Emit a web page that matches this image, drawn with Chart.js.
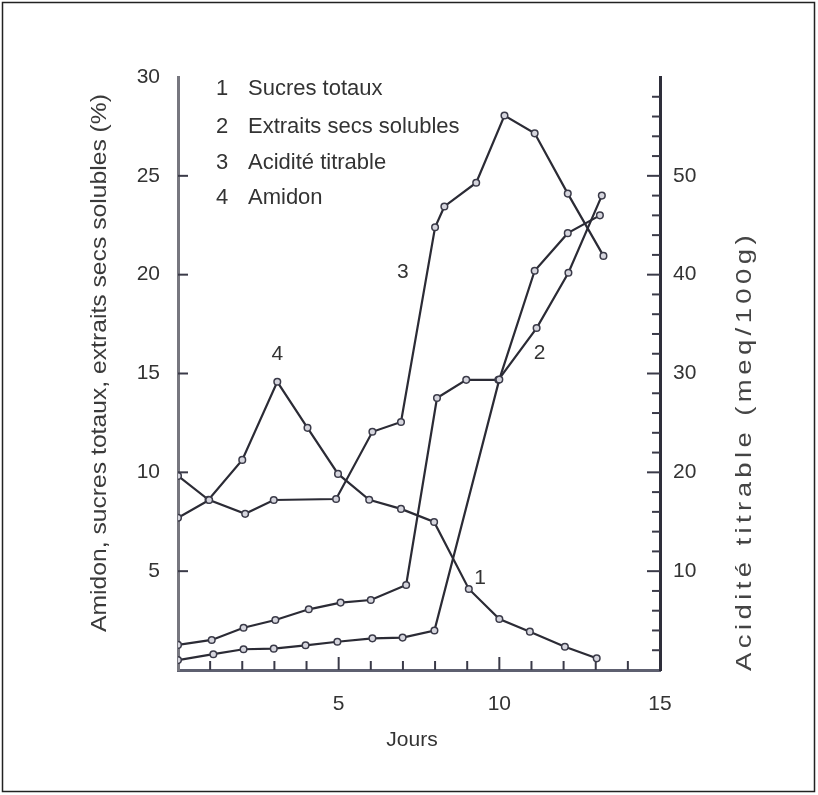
<!DOCTYPE html>
<html>
<head>
<meta charset="utf-8">
<script src="https://cdn.jsdelivr.net/npm/chart.js@4.4.1/dist/chart.umd.min.js"></script>
<style>
  html, body { margin: 0; padding: 0; background: #fff; }
  #wrap { width: 818px; height: 795px; position: relative; }
</style>
</head>
<body>
<div id="wrap"><canvas id="c" width="818" height="795"></canvas></div>
<script>
// ---- Data ----
const seriesNames = ["Sucres totaux", "Extraits secs solubles", "Acidité titrable", "Amidon"];

// 1 Sucres totaux (%) - left axis
const daysSucres = [0, 1.1, 2.04, 2.98, 3.97, 4.96, 6.05, 6.99, 7.98, 10.0, 11.1, 12.13, 13.13];
const sucres     = [0.5, 0.8, 1.05, 1.08, 1.25, 1.43, 1.6, 1.64, 2.0, 14.7, 20.2, 22.1, 23.0];

// 2 Extraits secs solubles (%) - left axis
const daysExtraits = [0, 1.05, 2.04, 3.03, 4.07, 5.06, 6.0, 7.1, 8.06, 8.97, 9.97, 11.16, 12.15, 13.19];
const extraits     = [1.27, 1.52, 2.14, 2.53, 3.07, 3.41, 3.54, 4.3, 13.76, 14.68, 14.68, 17.3, 20.1, 24.0];

// 3 Acidité titrable (meq/100g) - right axis
const daysAcidite = [0, 0.97, 2.09, 2.98, 4.92, 6.05, 6.94, 8.0, 8.29, 9.28, 10.16, 11.1, 12.13, 13.24];
const acidite     = [15.4, 17.2, 15.8, 17.2, 17.3, 24.1, 25.1, 44.8, 46.9, 49.3, 56.1, 54.3, 48.2, 41.9];

// 4 Amidon (%) - left axis
const daysAmidon = [0, 0.95, 2.0, 3.09, 4.03, 4.98, 5.95, 6.94, 7.97, 9.05, 10.0, 10.95, 12.04, 13.03];
const amidon     = [9.82, 8.61, 10.63, 14.58, 12.25, 9.92, 8.61, 8.15, 7.49, 4.1, 2.58, 1.94, 1.18, 0.59];

// Tick label sets
const xTickLabels = [5, 10, 15];
const leftTickLabels = [5, 10, 15, 20, 25, 30];
const rightTickLabels = [10, 20, 30, 40, 50];

const xTitle = "Jours";
const leftTitle = "Amidon, sucres totaux, extraits secs solubles (%)";
const rightTitle = "Acidité titrable (meq/100g)";

// curve number labels: [text, day, left-axis value]
const curveLabels = [["1", 9.4, 4.65], ["2", 11.25, 16.05], ["3", 7.0, 20.1], ["4", 3.09, 16.0]];

// ---- Build ----
const toXY = (xs, ys) => xs.map((x, i) => ({ x: x, y: ys[i] }));
const LINE = '#2b2b35';
const FONT = '"Liberation Sans", Arial, sans-serif';
const TXT = '#333';

function ds(label, xs, ys, axis) {
  return {
    label: label,
    data: toXY(xs, ys),
    yAxisID: axis,
    borderColor: LINE,
    borderWidth: 2.2,
    pointRadius: 3.3,
    pointBorderWidth: 1.5,
    pointBorderColor: '#3a3a48',
    pointBackgroundColor: '#d6d6de',
    tension: 0,
    fill: false
  };
}

// draws rotated text spread along its own direction to a target length
function spreadText(ctx, text, cx, cy, size, targetLen, stretch, rot, color) {
  ctx.save();
  ctx.font = size + 'px ' + FONT;
  ctx.fillStyle = color;
  ctx.textAlign = 'center';
  ctx.textBaseline = 'middle';
  const w0 = ctx.measureText(text).width;
  const extra = (targetLen / stretch - w0) / text.length;
  if ('letterSpacing' in ctx && extra > 0) {
    ctx.letterSpacing = extra.toFixed(2) + 'px';
  }
  const w = ctx.measureText(text).width;
  ctx.translate(cx, cy);
  ctx.rotate(rot);
  ctx.scale(targetLen / w, 1);
  ctx.fillText(text, 0, 0);
  ctx.restore();
}

const decor = {
  id: 'decor',
  beforeDraw(chart) {
    const ctx = chart.ctx;
    ctx.save();
    ctx.fillStyle = '#fff';
    ctx.fillRect(0, 0, chart.width, chart.height);
    ctx.restore();
  },
  afterDraw(chart) {
    const ctx = chart.ctx;
    const xs = chart.scales.x, yl = chart.scales.y, yr = chart.scales.y1;
    const ca = chart.chartArea;
    ctx.save();
    // frame
    ctx.strokeStyle = '#222';
    ctx.lineWidth = 1.5;
    ctx.strokeRect(2.5, 2.5, 812, 789);

    // inward tick marks
    ctx.lineWidth = 2;
    ctx.strokeStyle = '#3a3a48';
    xs.ticks.forEach(t => {
      const v = t.value;
      if (v <= 0 || v >= 15) return;
      const px = xs.getPixelForValue(v);
      const len = (v % 5 === 0) ? 13 : 9;
      ctx.beginPath(); ctx.moveTo(px, ca.bottom); ctx.lineTo(px, ca.bottom - len); ctx.stroke();
    });
    yl.ticks.forEach(t => {
      const v = t.value;
      if (v <= 0 || v >= 30) return;
      const py = yl.getPixelForValue(v);
      ctx.beginPath(); ctx.moveTo(ca.left, py); ctx.lineTo(ca.left + 10, py); ctx.stroke();
    });
    yr.ticks.forEach(t => {
      const v = t.value;
      if (v <= 0 || v >= 60) return;
      const py = yr.getPixelForValue(v);
      const len = (v % 10 === 0) ? 13 : 8;
      ctx.beginPath(); ctx.moveTo(ca.right, py); ctx.lineTo(ca.right - len, py); ctx.stroke();
    });

    // legend text
    ctx.fillStyle = TXT;
    ctx.font = '22px ' + FONT;
    ctx.textBaseline = 'middle';
    const legY = [89, 127, 163, 198];
    seriesNames.forEach((n, i) => {
      ctx.textAlign = 'center';
      ctx.fillText(String(i + 1), 222, legY[i]);
      ctx.textAlign = 'left';
      ctx.fillText(n, 248, legY[i]);
    });

    // curve labels
    ctx.font = '21px ' + FONT;
    ctx.textAlign = 'center';
    curveLabels.forEach(c => {
      ctx.fillText(c[0], xs.getPixelForValue(c[1]), yl.getPixelForValue(c[2]));
    });

    // x title
    ctx.fillText(xTitle, (ca.left + ca.right) / 2 - 7, 740);

    // axis titles (rotated, reading bottom to top)
    spreadText(ctx, leftTitle, 100, 363, 22, 538, 1.12, -Math.PI / 2, '#3a3a3a');
    spreadText(ctx, rightTitle, 745, 451, 22, 440, 1.25, -Math.PI / 2, '#444');

    ctx.restore();
  }
};

new Chart(document.getElementById('c'), {
  type: 'line',
  data: {
    datasets: [
      ds(seriesNames[0], daysSucres, sucres, 'y'),
      ds(seriesNames[1], daysExtraits, extraits, 'y'),
      ds(seriesNames[2], daysAcidite, acidite, 'y1'),
      ds(seriesNames[3], daysAmidon, amidon, 'y')
    ]
  },
  options: {
    responsive: false,
    animation: false,
    devicePixelRatio: 1,
    layout: { padding: { top: 77, left: 0, right: 0, bottom: 0 } },
    plugins: { legend: { display: false }, tooltip: { enabled: false } },
    scales: {
      x: {
        type: 'linear', min: 0, max: 15,
        grid: { display: false, drawTicks: false },
        border: { display: true, color: '#5e6070', width: 3 },
        ticks: {
          stepSize: 1, autoSkip: false, maxRotation: 0, padding: 22,
          color: TXT, font: { family: FONT, size: 21 },
          callback: v => xTickLabels.includes(v) ? String(v) : ''
        },
        afterFit: s => { s.height = 125; }
      },
      y: {
        type: 'linear', position: 'left', min: 0, max: 30,
        grid: { display: false, drawTicks: false },
        border: { display: true, color: '#77777f', width: 3 },
        ticks: {
          stepSize: 5, autoSkip: false, padding: 18,
          color: TXT, font: { family: FONT, size: 21 },
          callback: v => leftTickLabels.includes(v) ? String(v) : ''
        },
        afterFit: s => { s.width = 178; }
      },
      y1: {
        type: 'linear', position: 'right', min: 0, max: 60,
        grid: { display: false, drawTicks: false },
        border: { display: true, color: '#2e2e3a', width: 3 },
        ticks: {
          stepSize: 2, autoSkip: false, padding: 13,
          color: TXT, font: { family: FONT, size: 21 },
          callback: v => rightTickLabels.includes(v) ? String(v) : ''
        },
        afterFit: s => { s.width = 158; }
      }
    }
  },
  plugins: [decor]
});
</script>
</body>
</html>
